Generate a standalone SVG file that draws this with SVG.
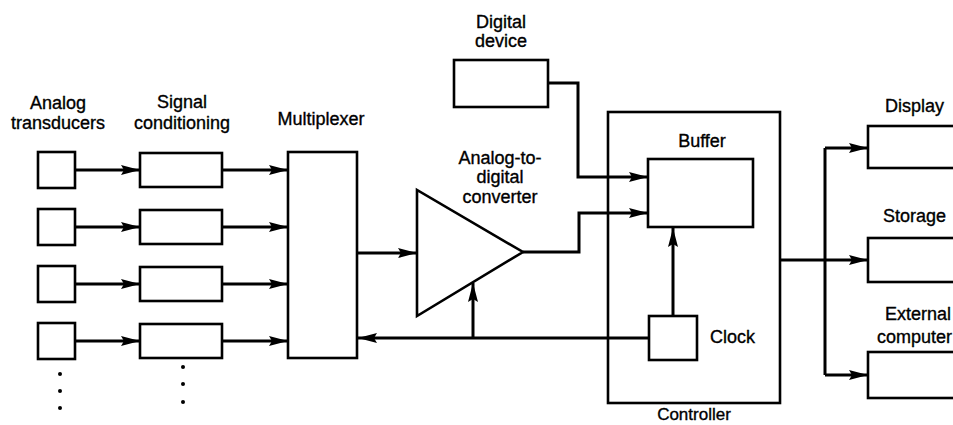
<svg xmlns="http://www.w3.org/2000/svg" width="953" height="425" viewBox="0 0 953 425">
<style>
.box{fill:#fff;stroke:#000;stroke-width:2.6}
.ln{fill:none;stroke:#000;stroke-width:3;stroke-linejoin:miter}
.ar{marker-end:url(#ah)}
text{font-family:"Liberation Sans",Arial,sans-serif;font-size:18px;fill:#000;stroke:#000;stroke-width:0.35}
.c{text-anchor:middle}
</style>
<defs>
<marker id="ah" viewBox="0 0 19 10" refX="19" refY="5" markerWidth="19" markerHeight="10" markerUnits="userSpaceOnUse" orient="auto">
<path d="M0,0 L19,5 L0,10 L3,5 z" fill="#000"/>
</marker>
</defs>
<rect width="953" height="425" fill="#fff"/>

<g id="transducers">
<rect class="box" x="38" y="152" width="37" height="36"/>
<rect class="box" x="38" y="209" width="37" height="36"/>
<rect class="box" x="38" y="266" width="37" height="36"/>
<rect class="box" x="38" y="323" width="37" height="36"/>
<circle cx="60" cy="374" r="2"/><circle cx="60" cy="391" r="2"/><circle cx="60" cy="408" r="2"/>
<text class="c" x="58" y="109">Analog</text>
<text class="c" x="58" y="129">transducers</text>
</g>

<g id="signal-conditioning">
<rect class="box" x="140" y="153" width="82" height="34"/>
<rect class="box" x="140" y="210" width="82" height="34"/>
<rect class="box" x="140" y="267" width="82" height="34"/>
<rect class="box" x="140" y="324" width="82" height="34"/>
<circle cx="183" cy="367" r="2"/><circle cx="183" cy="384" r="2"/><circle cx="183" cy="402" r="2"/>
<text class="c" x="182" y="108">Signal</text>
<text class="c" x="182" y="129">conditioning</text>
</g>

<g id="multiplexer">
<rect class="box" x="288" y="152" width="69" height="206"/>
<text class="c" x="321" y="125">Multiplexer</text>
</g>

<g id="adc">
<polygon class="box" points="417,190 417,316 523,252"/>
<text class="c" x="500" y="164">Analog-to-</text>
<text class="c" x="500" y="183">digital</text>
<text class="c" x="500" y="203">converter</text>
</g>

<g id="digital-device">
<rect class="box" x="454" y="60" width="94" height="47"/>
<text class="c" x="501" y="28">Digital</text>
<text class="c" x="501" y="47">device</text>
</g>

<g id="controller">
<rect class="box" x="608" y="112" width="172" height="291" style="fill:none"/>
<text class="c" x="694" y="420" style="font-size:17px">Controller</text>
</g>

<g id="buffer">
<rect class="box" x="648" y="159" width="105" height="68"/>
<text class="c" x="702" y="147">Buffer</text>
</g>

<g id="clock">
<rect class="box" x="649" y="316" width="48" height="44"/>
<text x="710" y="343">Clock</text>
</g>

<g id="display">
<rect class="box" x="868" y="126" width="110" height="42"/>
<text x="885" y="112">Display</text>
</g>

<g id="storage">
<rect class="box" x="868" y="238" width="110" height="44"/>
<text x="883" y="222">Storage</text>
</g>

<g id="external-computer">
<rect class="box" x="868" y="352" width="110" height="46"/>
<text x="885" y="320">External</text>
<text x="877" y="343">computer</text>
</g>

<g id="connectors">
<path class="ln ar" d="M75,170 H140"/>
<path class="ln ar" d="M75,227 H140"/>
<path class="ln ar" d="M75,284 H140"/>
<path class="ln ar" d="M75,341 H140"/>
<path class="ln ar" d="M222,170 H288"/>
<path class="ln ar" d="M222,227 H288"/>
<path class="ln ar" d="M222,284 H288"/>
<path class="ln ar" d="M222,341 H288"/>
<path class="ln ar" d="M357,253 H417"/>
<path class="ln ar" d="M523,252 H579 V213 H648"/>
<path class="ln ar" d="M548,83 H578 V177 H648"/>
<path class="ln ar" d="M649,338 H358"/>
<path class="ln ar" d="M473,338 V283"/>
<path class="ln ar" d="M673,316 V228"/>
<path class="ln" d="M780,260 H825"/>
<path class="ln" d="M825,148 V375"/>
<path class="ln ar" d="M825,148 H868"/>
<path class="ln ar" d="M825,260 H868"/>
<path class="ln ar" d="M825,375 H868"/>
</g>
</svg>
